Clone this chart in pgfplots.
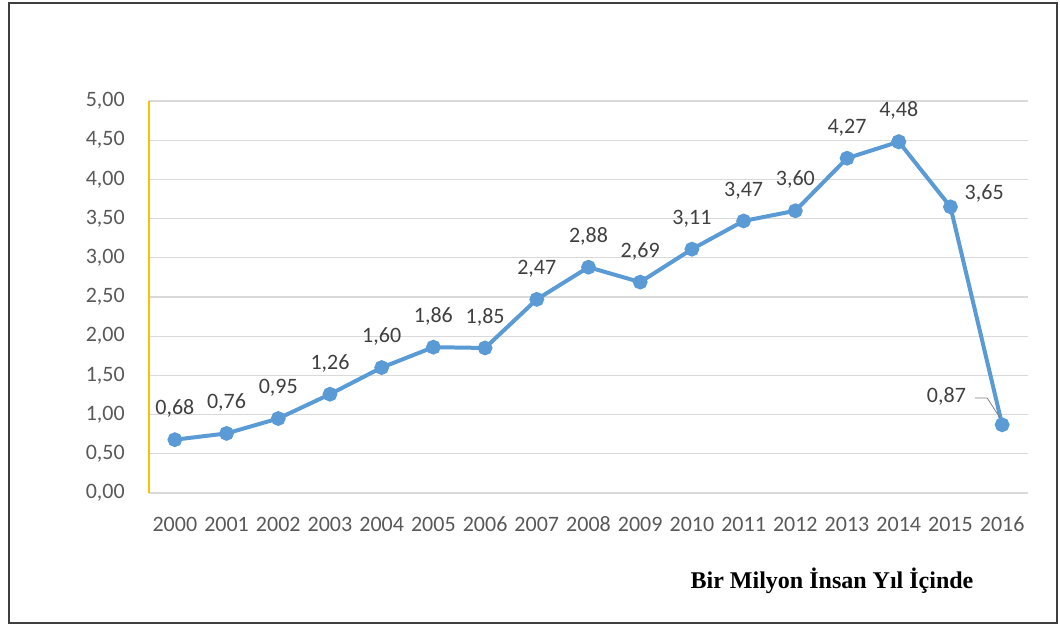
\documentclass[border=0pt]{standalone}
\usepackage{fontspec}
\setmainfont{Carlito}
\newfontfamily\titlefont{Liberation Serif}
\usepackage{pgfplots}
\pgfplotsset{compat=1.18}
\definecolor{lineblue}{HTML}{5B9BD5}
\definecolor{gridgray}{HTML}{D9D9D9}
\definecolor{ticktext}{HTML}{595959}
\definecolor{labeltext}{HTML}{404040}
\definecolor{axisyellow}{HTML}{FFC000}
\definecolor{framegray}{HTML}{3F3F3F}
\begin{document}
\begin{tikzpicture}[x=0.75pt,y=0.75pt]
\useasboundingbox (0,0) rectangle (1060,626);
\draw[line width=1.5pt, framegray] (9,3) rectangle (1057,623);
\begin{axis}[
  at={(111.75pt,99.75pt)}, anchor=south west,
  scale only axis, width=659.25pt, height=294pt,
  xmin=-0.5, xmax=16.5, ymin=0, ymax=5,
  clip=false,
  axis x line*=bottom, axis y line*=left,
  x axis line style={draw=none},
  y axis line style={draw=axisyellow, line width=1.2pt, -},
  major tick length=0pt,
  ymajorgrids, grid style={gridgray, line width=0.9pt},
  ytick={0,0.5,...,5},
  xtick={0,...,16},
  xticklabels={2000,2001,2002,2003,2004,2005,2006,2007,2008,2009,2010,2011,2012,2013,2014,2015,2016},
  yticklabel={\pgfmathprintnumber[fixed,fixed zerofill,precision=2,use comma,assume math mode=true]{\tick}},
  ticklabel style={font=\fontsize{16.5}{20}\selectfont, text=ticktext, inner sep=0pt},
  yticklabel style={anchor=east, xshift=-18pt},
  xticklabel style={anchor=base, yshift=-29pt},
  nodes near coords={\pgfmathprintnumber[fixed,fixed zerofill,precision=2,use comma,assume math mode=true]{\pgfplotspointmeta}},
  every node near coord/.append style={font=\fontsize{16.5}{20}\selectfont, text=labeltext, inner sep=0pt},
]
\addplot[lineblue, line width=3pt, mark=*, mark size=4pt, mark options={fill=lineblue, draw=lineblue},
  nodes near coords style={anchor=south, yshift=15pt}]
  coordinates {(0,0.68) (1,0.76) (2,0.95) (3,1.26) (4,1.60) (5,1.86) (6,1.85) (7,2.47) (8,2.88) (9,2.69) (10,3.11) (11,3.47) (12,3.60) (13,4.27) (14,4.48)};
\addplot[lineblue, line width=3pt, mark=*, mark size=4pt, mark options={fill=lineblue, draw=lineblue}, nodes near coords=\empty]
  coordinates {(14,4.48) (15,3.65) (16,0.87)};
\addplot[draw=none, mark=none, nodes near coords style={anchor=west, xshift=10.5pt, yshift=9.75pt}]
  coordinates {(15,3.65)};
\addplot[draw=none, mark=none, nodes near coords style={anchor=east, xshift=-27pt, yshift=21pt}]
  coordinates {(16,0.87)};
\draw[gray, line width=0.6pt] (axis cs:15.47,1.212) -- (axis cs:15.71,1.212) -- (axis cs:15.96,0.957);
\end{axis}
\node[font=\titlefont\bfseries\fontsize{18}{22}\selectfont, text=black] at (832,45) {Bir Milyon İnsan Yıl İçinde};
\end{tikzpicture}
\end{document}
